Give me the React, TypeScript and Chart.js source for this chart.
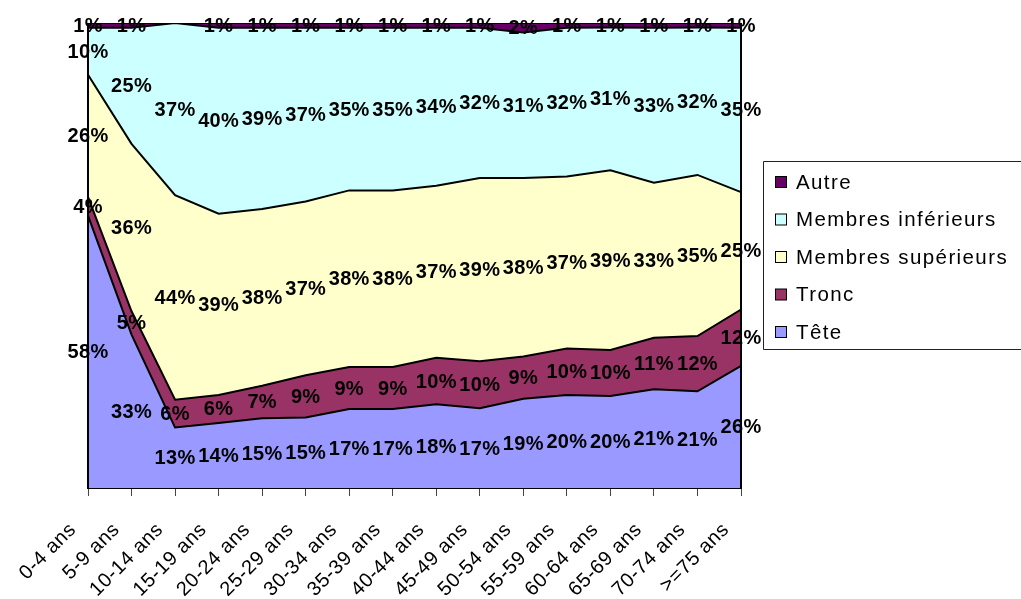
import React, { useEffect, useRef } from "react";
import { Chart, registerables } from "chart.js";

Chart.register(...registerables);

const categories = [
  "0-4 ans", "5-9 ans", "10-14 ans", "15-19 ans", "20-24 ans", "25-29 ans",
  "30-34 ans", "35-39 ans", "40-44 ans", "45-49 ans", "50-54 ans", "55-59 ans",
  "60-64 ans", "65-69 ans", "70-74 ans", ">=75 ans",
];
const tete = [58, 33, 13, 14, 15, 15, 17, 17, 18, 17, 19, 20, 20, 21, 21, 26];
const tronc = [4, 5, 6, 6, 7, 9, 9, 9, 10, 10, 9, 10, 10, 11, 12, 12];
const membresSuperieurs = [26, 36, 44, 39, 38, 37, 38, 38, 37, 39, 38, 37, 39, 33, 35, 25];
const membresInferieurs = [10, 25, 37, 40, 39, 37, 35, 35, 34, 32, 31, 32, 31, 33, 32, 35];
const autre = [1, 1, 0, 1, 1, 1, 1, 1, 1, 1, 2, 1, 1, 1, 1, 1];

const seriesNames = ["Tête", "Tronc", "Membres supérieurs", "Membres inférieurs", "Autre"];
const seriesValues = [tete, tronc, membresSuperieurs, membresInferieurs, autre];
const seriesColors = ["#9999FF", "#993366", "#FFFFCC", "#CCFFFF", "#660066"];

const FONT = '"Liberation Sans", Arial, Helvetica, sans-serif';

const totals = categories.map((_, j) =>
  seriesValues.reduce((s, arr) => s + arr[j], 0)
);

const labelsPlugin = {
  id: "areaLabels",
  beforeDraw(chart: any) {
    chart.ctx.letterSpacing = "0.6px";
  },
  afterDatasetsDraw(chart: any) {
    const ctx = chart.ctx;
    const area = chart.chartArea;
    ctx.save();
    ctx.strokeStyle = "#000";
    ctx.lineWidth = 2;
    ctx.beginPath();
    ctx.moveTo(area.left, area.top);
    ctx.lineTo(area.left, area.bottom);
    ctx.moveTo(area.right, area.top);
    ctx.lineTo(area.right, area.bottom);
    ctx.stroke();

    ctx.font = `bold 20px ${FONT}`;
    ctx.letterSpacing = "0.3px";
    ctx.fillStyle = "#000";
    ctx.textAlign = "center";
    ctx.textBaseline = "middle";
    const yScale = chart.scales.y;
    seriesValues.forEach((vals, i) => {
      const meta = chart.getDatasetMeta(i);
      meta.data.forEach((pt: any, j: number) => {
        const raw = vals[j];
        if (!raw) return;
        const top = pt.y;
        const bottom =
          i === 0 ? yScale.getPixelForValue(0) : chart.getDatasetMeta(i - 1).data[j].y;
        ctx.fillText(raw + "%", pt.x, (top + bottom) / 2 + 1);
      });
    });
    ctx.restore();
  },
  afterDraw(chart: any) {
    const ctx = chart.ctx;
    ctx.save();
    const boxLeft = 763.5;
    const boxTop = 161.5;
    const boxBottom = 349.5;
    ctx.strokeStyle = "#222";
    ctx.lineWidth = 1;
    ctx.beginPath();
    ctx.moveTo(1030, boxTop);
    ctx.lineTo(boxLeft, boxTop);
    ctx.lineTo(boxLeft, boxBottom);
    ctx.lineTo(1030, boxBottom);
    ctx.stroke();

    ctx.font = `20.5px ${FONT}`;
    ctx.letterSpacing = "1.4px";
    ctx.textAlign = "left";
    ctx.textBaseline = "middle";
    const n = seriesNames.length;
    for (let k = 0; k < n; k++) {
      const i = n - 1 - k;
      const cy = 182 + k * 37.5;
      ctx.fillStyle = seriesColors[i];
      ctx.fillRect(775.5, cy - 5.5, 11, 11);
      ctx.strokeStyle = "#000";
      ctx.strokeRect(775.5, cy - 5.5, 11, 11);
      ctx.fillStyle = "#000";
      ctx.fillText(seriesNames[i], 796, cy + 1);
    }
    ctx.restore();
  },
};

export default function App() {
  const canvasRef = useRef<HTMLCanvasElement | null>(null);

  useEffect(() => {
    if (!canvasRef.current) return;
    const chart = new Chart(canvasRef.current, {
      type: "line",
      data: {
        labels: categories,
        datasets: seriesValues.map((vals, i) => ({
          label: seriesNames[i],
          data: vals.map((v, j) => (v / totals[j]) * 100),
          backgroundColor: seriesColors[i],
          borderColor: "#000",
          borderWidth: 2,
          pointRadius: 0,
          tension: 0,
          fill: i === 0 ? "origin" : "-1",
        })),
      },
      options: {
        responsive: false,
        animation: false,
        devicePixelRatio: 1,
        layout: { padding: { left: 88, right: 280, top: 23, bottom: 0 } },
        plugins: {
          legend: { display: false },
          tooltip: { enabled: false },
        },
        scales: {
          x: {
            type: "category",
            offset: false,
            grid: {
              display: true,
              drawOnChartArea: false,
              drawTicks: true,
              tickLength: 8,
              color: "#444",
              lineWidth: 1,
            },
            border: { display: true, color: "#000", width: 2 },
            ticks: {
              autoSkip: false,
              minRotation: 45,
              maxRotation: 45,
              color: "#000",
              padding: 22,
              labelOffset: -15,
              font: { family: FONT, size: 20 },
            },
            afterFit: (s: any) => {
              s.height = 111;
            },
          },
          y: {
            display: false,
            stacked: true,
            min: 0,
            max: 100,
          },
        },
      },
      plugins: [labelsPlugin],
    } as any);
    return () => chart.destroy();
  }, []);

  return (
    <div style={{ position: "absolute", left: 0, top: 0, width: 1021, height: 599, background: "#fff" }}>
      <canvas ref={canvasRef} width={1021} height={599} style={{ display: "block" }} />
    </div>
  );
}
